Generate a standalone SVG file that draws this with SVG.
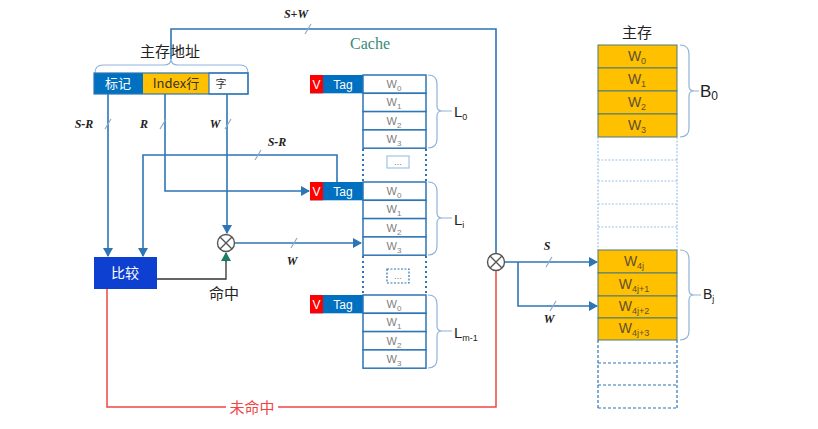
<svg xmlns="http://www.w3.org/2000/svg" width="818" height="429" viewBox="0 0 818 429">
<defs>
<marker id="ab" markerWidth="10" markerHeight="10" refX="8" refY="5" orient="auto" markerUnits="userSpaceOnUse"><path d="M0,0 L9,5 L0,10 Z" fill="#2e75b6"/></marker>
<marker id="ag" markerWidth="10" markerHeight="10" refX="8" refY="5" orient="auto" markerUnits="userSpaceOnUse"><path d="M0,0 L9,5 L0,10 Z" fill="#1f7a6a"/></marker>
<style>
text{font-family:"Noto Sans CJK SC","Liberation Sans",sans-serif}
.ln{fill:none;stroke:#2e75b6;stroke-width:1.6}
.red{fill:none;stroke:#f04545;stroke-width:1.5}
.tk{stroke:#8ea9c8;stroke-width:1.2}
.lb{font-family:"Liberation Serif",serif;font-style:italic;font-weight:bold;font-size:12px;fill:#222}
.cell{fill:#fff;stroke:#2e75b6;stroke-width:1.5}
.wt{font-family:"Liberation Sans",sans-serif;font-size:11px;fill:#808080;text-anchor:middle}
.tag{fill:#0070c0}
.v{fill:#ff0000}
.tt{font-family:"Liberation Sans",sans-serif;font-size:12px;fill:#fff}
.br{fill:none;stroke:#8fb3da;stroke-width:1.2}
.dot{fill:none;stroke:#2e75b6;stroke-width:2;stroke-dasharray:2 3}
.mm{fill:#ffc000;stroke:#4e7a7a;stroke-width:1}
.mt{font-family:"Liberation Sans",sans-serif;font-size:14px;fill:#5f5030;text-anchor:middle}
.lt{font-family:"Liberation Sans",sans-serif;font-size:15px;fill:#222}
.xo{fill:#fff;stroke:#555;stroke-width:1.4}
.cache{font-family:"Liberation Serif",serif;font-size:16px;fill:#3a8a78;text-anchor:middle}
.dots{font-family:"Liberation Sans",sans-serif;font-size:9px;fill:#777;text-anchor:middle}
.bt{font-family:"Liberation Sans",sans-serif;fill:#222}
</style>
</defs>

<g id="address">
<text x="170" y="57" font-size="15" fill="#222" text-anchor="middle">主存地址</text>
<path class="br" d="M95,73 Q95,65 103,65 L164,65 Q171,65 171,59 Q171,65 178,65 L240,65 Q248,65 248,73"/>
<rect x="94" y="73" width="49" height="21" fill="#0070c0"/>
<rect x="143" y="73" width="66" height="21" fill="#ffc000"/>
<rect x="209" y="73" width="39" height="21" fill="#fff" stroke="#2e75b6" stroke-width="1.2"/>
<rect x="94" y="73" width="154" height="21" fill="none" stroke="#2e75b6" stroke-width="1.2"/>
<text x="118" y="88" font-size="13" fill="#fff" text-anchor="middle">标记</text>
<text x="176" y="88" font-size="13" fill="#333" text-anchor="middle">Index行</text>
<text x="221" y="88" font-size="11" fill="#333" text-anchor="middle">字</text>
</g>

<g id="compare">
<rect x="94" y="257" width="63" height="32" fill="#0d40d0"/>
<text x="125" y="278" font-size="14" fill="#fff" text-anchor="middle">比较</text>
</g>

<g id="and1">
<circle class="xo" cx="226" cy="243" r="8.5"/>
<path d="M220,237 L232,249 M232,237 L220,249" stroke="#555" stroke-width="1.4"/>
</g>
<g id="and2">
<circle class="xo" cx="496" cy="262" r="8.5"/>
<path d="M490,256 L502,268 M502,256 L490,268" stroke="#555" stroke-width="1.4"/>
</g>

<g id="cache">
<text class="cache" x="370" y="49">Cache</text>
</g>

<g id="L0">
<rect class="tag" x="310" y="75" width="53" height="18.3"/>
<rect class="v" x="310" y="75" width="13" height="18.3"/>
<text class="tt" x="316.5" y="88.5" text-anchor="middle">V</text>
<text class="tt" x="343" y="88.5" text-anchor="middle">Tag</text>
<rect class="cell" x="363" y="75" width="63" height="18.3"/>
<rect class="cell" x="363" y="93.3" width="63" height="18.3"/>
<rect class="cell" x="363" y="111.6" width="63" height="18.3"/>
<rect class="cell" x="363" y="129.9" width="63" height="18.3"/>
<text class="wt" x="394" y="88">W<tspan font-size="8" dy="3">0</tspan></text>
<text class="wt" x="394" y="106.3">W<tspan font-size="8" dy="3">1</tspan></text>
<text class="wt" x="394" y="124.6">W<tspan font-size="8" dy="3">2</tspan></text>
<text class="wt" x="394" y="142.9">W<tspan font-size="8" dy="3">3</tspan></text>
<path class="br" d="M428,75 Q437,75 437,84 L437,106 Q437,111 442,111 Q437,111 437,116 L437,139 Q437,148 428,148 M442,111 L452,111"/>
<text class="lt" x="454" y="117">L<tspan font-size="9" dy="3">0</tspan></text>
</g>

<g id="gap1">
<path class="dot" d="M363,149 L363,182 M426,149 L426,182"/>
<rect x="387" y="156" width="22" height="12" fill="#fff" stroke="#9dc3e6" stroke-width="1.2"/>
<text class="dots" x="398" y="165">...</text>
</g>

<g id="Li">
<rect class="tag" x="310" y="182" width="53" height="18.3"/>
<rect class="v" x="310" y="182" width="13" height="18.3"/>
<text class="tt" x="316.5" y="195.5" text-anchor="middle">V</text>
<text class="tt" x="343" y="195.5" text-anchor="middle">Tag</text>
<rect class="cell" x="363" y="182" width="63" height="18.3"/>
<rect class="cell" x="363" y="200.3" width="63" height="18.3"/>
<rect class="cell" x="363" y="218.6" width="63" height="18.3"/>
<rect class="cell" x="363" y="236.9" width="63" height="18.3"/>
<text class="wt" x="394" y="195">W<tspan font-size="8" dy="3">0</tspan></text>
<text class="wt" x="394" y="213.3">W<tspan font-size="8" dy="3">1</tspan></text>
<text class="wt" x="394" y="231.6">W<tspan font-size="8" dy="3">2</tspan></text>
<text class="wt" x="394" y="249.9">W<tspan font-size="8" dy="3">3</tspan></text>
<path class="br" d="M428,182 Q437,182 437,191 L437,213 Q437,218 442,218 Q437,218 437,223 L437,246 Q437,255 428,255 M442,218 L452,218"/>
<text class="lt" x="454" y="225">L<tspan font-size="9" dy="3">i</tspan></text>
</g>

<g id="gap2">
<path class="dot" d="M363,256 L363,295 M426,256 L426,295"/>
<rect x="387" y="269" width="22" height="14" fill="#fff" stroke="#2e75b6" stroke-width="1.2" stroke-dasharray="2 1.5"/>
<text class="dots" x="398" y="279">...</text>
</g>

<g id="Lm1">
<rect class="tag" x="310" y="295" width="53" height="18.3"/>
<rect class="v" x="310" y="295" width="13" height="18.3"/>
<text class="tt" x="316.5" y="308.5" text-anchor="middle">V</text>
<text class="tt" x="343" y="308.5" text-anchor="middle">Tag</text>
<rect class="cell" x="363" y="295" width="63" height="18.3"/>
<rect class="cell" x="363" y="313.3" width="63" height="18.3"/>
<rect class="cell" x="363" y="331.6" width="63" height="18.3"/>
<rect class="cell" x="363" y="349.9" width="63" height="18.3"/>
<text class="wt" x="394" y="308">W<tspan font-size="8" dy="3">0</tspan></text>
<text class="wt" x="394" y="326.3">W<tspan font-size="8" dy="3">1</tspan></text>
<text class="wt" x="394" y="344.6">W<tspan font-size="8" dy="3">2</tspan></text>
<text class="wt" x="394" y="362.9">W<tspan font-size="8" dy="3">3</tspan></text>
<path class="br" d="M428,295 Q437,295 437,304 L437,326 Q437,331 442,331 Q437,331 437,336 L437,359 Q437,368 428,368 M442,331 L452,331"/>
<text class="lt" x="454" y="338">L<tspan font-size="9" dy="3">m-1</tspan></text>
</g>

<g id="memory">
<text x="637" y="38" font-size="15" fill="#222" text-anchor="middle">主存</text>
<rect class="mm" x="598" y="45" width="79" height="23"/>
<rect class="mm" x="598" y="68" width="79" height="23"/>
<rect class="mm" x="598" y="91" width="79" height="23"/>
<rect class="mm" x="598" y="114" width="79" height="23"/>
<text class="mt" x="637" y="61">W<tspan font-size="9" dy="3">0</tspan></text>
<text class="mt" x="637" y="84">W<tspan font-size="9" dy="3">1</tspan></text>
<text class="mt" x="637" y="107">W<tspan font-size="9" dy="3">2</tspan></text>
<text class="mt" x="637" y="130">W<tspan font-size="9" dy="3">3</tspan></text>
<path class="br" d="M680,45 Q689,45 689,54 L689,86 Q689,91 694,91 Q689,91 689,96 L689,128 Q689,137 680,137 M694,91 L699,91"/>
<text class="bt" x="700" y="97" font-size="17">B<tspan font-size="12" dy="3">0</tspan></text>
<path d="M598,137 L598,250 M677,137 L677,250 M598,160 L677,160 M598,181 L677,181 M598,204 L677,204 M598,227 L677,227" fill="none" stroke="#9dc3e6" stroke-width="1.2" stroke-dasharray="2 1.5"/>
<rect class="mm" x="598" y="250" width="79" height="23"/>
<rect class="mm" x="598" y="273" width="79" height="23"/>
<rect class="mm" x="598" y="296" width="79" height="22"/>
<rect class="mm" x="598" y="318" width="79" height="22"/>
<text class="mt" x="634" y="266">W<tspan font-size="9" dy="3">4j</tspan></text>
<text class="mt" x="634" y="289">W<tspan font-size="9" dy="3">4j+1</tspan></text>
<text class="mt" x="634" y="311">W<tspan font-size="9" dy="3">4j+2</tspan></text>
<text class="mt" x="634" y="333">W<tspan font-size="9" dy="3">4j+3</tspan></text>
<path class="br" d="M680,250 Q689,250 689,259 L689,290 Q689,295 694,295 Q689,295 689,300 L689,331 Q689,340 680,340 M694,295 L701,295"/>
<text class="bt" x="703" y="299" font-size="14">B<tspan font-size="9" dy="3">j</tspan></text>
<path d="M598,340 L598,408 M677,340 L677,408 M598,363 L677,363 M598,385 L677,385 M598,408 L677,408" fill="none" stroke="#2e75b6" stroke-width="1.2" stroke-dasharray="3 2"/>
</g>

<g id="connectors">
<path class="ln" d="M108,94 L108,256" marker-end="url(#ab)"/>
<path class="ln" d="M165,94 L165,191 L309,191" marker-end="url(#ab)"/>
<path class="ln" d="M227,94 L227,233" marker-end="url(#ab)"/>
<path class="ln" d="M337,182 L337,155 L143,155 L143,256" marker-end="url(#ab)"/>
<path class="ln" d="M235,243 L361,243" marker-end="url(#ab)"/>
<path d="M157,279 L226,279 L226,253" fill="none" stroke="#333" stroke-width="1.3"/>
<path d="M226,262 L226,253" fill="none" stroke="#1f7a6a" stroke-width="1.6" marker-end="url(#ag)"/>
<path class="ln" d="M171,59 L171,29 L496,29 L496,253"/>
<path class="ln" d="M505,262 L597,262" marker-end="url(#ab)"/>
<path class="ln" d="M518,262 L518,306 L597,306" marker-end="url(#ab)"/>
<path class="red" d="M107,289 L107,407 L496,407 L496,271"/>
<g class="tk">
<line x1="105" y1="129" x2="111" y2="119"/>
<line x1="160" y1="129" x2="166" y2="119"/>
<line x1="225" y1="129" x2="231" y2="119"/>
<line x1="255" y1="160" x2="261" y2="150"/>
<line x1="291" y1="248" x2="297" y2="238"/>
<line x1="305" y1="34" x2="311" y2="24"/>
<line x1="546" y1="267" x2="552" y2="257"/>
<line x1="550" y1="311" x2="556" y2="301"/>
</g>
<text class="lb" x="84" y="128" text-anchor="middle">S-R</text>
<text class="lb" x="144" y="128" text-anchor="middle">R</text>
<text class="lb" x="215" y="128" text-anchor="middle">W</text>
<text class="lb" x="277" y="146" text-anchor="middle">S-R</text>
<text class="lb" x="292" y="265" text-anchor="middle">W</text>
<text class="lb" x="296" y="18" text-anchor="middle">S+W</text>
<text class="lb" x="547" y="250" text-anchor="middle">S</text>
<text class="lb" x="549" y="323" text-anchor="middle">W</text>
<text x="224" y="299" font-size="15" fill="#222" text-anchor="middle">命中</text>
<rect x="226" y="398" width="52" height="18" fill="#fff"/>
<text x="252" y="413" font-size="15" fill="#f04545" text-anchor="middle">未命中</text>
</g>
</svg>
